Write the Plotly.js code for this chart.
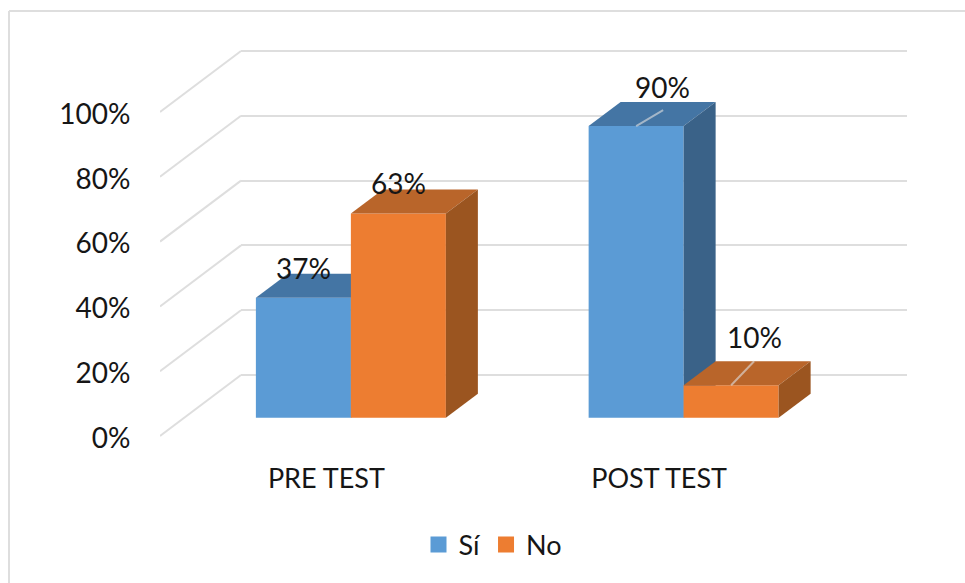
<!DOCTYPE html>
<html>
<head>
<meta charset="utf-8">
<script src="https://cdn.plot.ly/plotly-3.0.1.min.js"></script>
<style>html,body{margin:0;padding:0;background:#fff}</style>
</head>
<body>
<div id="chart" style="width:965px;height:583px"></div>
<script>
// Data
const categories = ['PRE TEST', 'POST TEST'];
const si = [37, 90];
const no = [63, 10];
const seriesNames = ['Sí', 'No'];
const yTicks = [0, 20, 40, 60, 80, 100];

// Style
const W = 965, H = 583;
const BLUE = ['#5b9bd5', '#4475a4', '#3a6288'];
const ORANGE = ['#ed7d31', '#b9652a', '#9b5520'];
const GRID = '#dedede';
const FONT = 'Lato, Carlito, Calibri, sans-serif';
const TEXT = '#161616';
const pxPerPct = 3.24, bandPx = 332.75;
const Y0 = -5, Y1 = 105, YF = 125, X0 = -0.5, X1 = 1.5;
// Depth of the bars and of the floor, as data units
const barW = 95 / bandPx, barDx = 32 / bandPx, barDy = 24 / pxPerPct;
const floorDx = 81 / bandPx, floorDy = 61 / pxPerPct;

const xDom = left => [left / W, (left + bandPx * (X1 - X0)) / W];
const yDom = (zeroPx, top) => [1 - (zeroPx - Y0 * pxPerPct) / H, 1 - (zeroPx - (top || Y1) * pxPerPct) / H];
const idx = categories.map((_, i) => i);

function faces(vals, offset, colors, xa, ya) {
  const out = [];
  vals.forEach((v, i) => {
    const l = i + offset, r = l + barW;
    out.push({ x: [l, r, r + barDx, l + barDx, l], y: [v, v, v + barDy, v + barDy, v],
      type: 'scatter', mode: 'lines', fill: 'toself', fillcolor: colors[1],
      line: { width: 0 }, hoverinfo: 'skip', showlegend: false, xaxis: xa, yaxis: ya });
    out.push({ x: [r, r + barDx, r + barDx, r, r], y: [0, barDy, v + barDy, v, 0],
      type: 'scatter', mode: 'lines', fill: 'toself', fillcolor: colors[2],
      line: { width: 0 }, hoverinfo: 'skip', showlegend: false, xaxis: xa, yaxis: ya });
  });
  return out;
}
function bar(vals, offset, color, name, xa, ya) {
  return { type: 'bar', x: idx, y: vals, name: name, width: barW, offset: offset,
    marker: { color: color, line: { width: 0 } }, showlegend: false, xaxis: xa, yaxis: ya };
}
function legendItem(name, color) {
  return { type: 'scatter', mode: 'markers', x: [null], y: [null], name: name,
    marker: { symbol: 'square', size: 16, color: color }, xaxis: 'x', yaxis: 'y' };
}
function leader(i, offset, v, dx, dy) {
  return { type: 'scatter', mode: 'lines', x: [i + offset, i + offset + dx], y: [v, v + dy],
    line: { color: 'rgba(222,222,222,0.62)', width: 2 }, hoverinfo: 'skip', showlegend: false,
    xaxis: 'x3', yaxis: 'y3' };
}
const slants = yTicks.map(v => ({
  type: 'scatter', mode: 'lines', x: [X0, X0 + floorDx], y: [v, v + floorDy],
  line: { color: GRID, width: 2 }, hoverinfo: 'skip', showlegend: false, xaxis: 'x5', yaxis: 'y5'
}));

const traces = [
  legendItem(seriesNames[0], BLUE[0]),
  legendItem(seriesNames[1], ORANGE[0]),
  bar(si, -barW, BLUE[0], seriesNames[0], 'x2', 'y2'),
  ...faces(si, -barW, BLUE, 'x2', 'y2'),
  bar(no, 0, ORANGE[0], seriesNames[1], 'x3', 'y3'),
  ...faces(no, 0, ORANGE, 'x3', 'y3'),
  leader(1, -barW / 2, si[1], 27 / bandPx, 16 / pxPerPct),
  leader(1, barW / 2, no[1], 23 / bandPx, 24 / pxPerPct),
  // carries the tick labels of the front plane
  { type: 'scatter', mode: 'markers', x: [null], y: [null], showlegend: false, hoverinfo: 'skip', xaxis: 'x4', yaxis: 'y4' },
  ...slants
];

function hiddenX(left, anchor) {
  return { domain: xDom(left), range: [X0, X1], type: 'linear', visible: false, anchor: anchor, fixedrange: true };
}
function hiddenY(zero, anchor) {
  return { domain: yDom(zero), range: [Y0, Y1], type: 'linear', visible: false, anchor: anchor, fixedrange: true };
}

const labelFont = { family: FONT, size: 28, color: TEXT };
const axisFont = { family: FONT, size: 27, color: TEXT };
const dataLabel = (x, y, v) => ({ xref: 'x2', yref: 'y2', x: x, y: y, text: v + '%', showarrow: false,
  font: labelFont, xanchor: 'center', yanchor: 'middle' });

const layout = {
  width: W, height: H, margin: { l: 0, r: 0, t: 0, b: 0 },
  paper_bgcolor: '#ffffff', plot_bgcolor: 'rgba(0,0,0,0)',
  showlegend: true, barmode: 'overlay',
  legend: { orientation: 'h', x: 493 / W, xanchor: 'center', y: 1 - 545 / H, yanchor: 'middle',
    font: axisFont, itemwidth: 30, bgcolor: 'rgba(0,0,0,0)', itemclick: false, itemdoubleclick: false },
  // back wall: gridlines
  xaxis: hiddenX(241, 'y'),
  yaxis: { domain: yDom(375), range: [Y0, Y1], type: 'linear', anchor: 'x', fixedrange: true,
    tickvals: yTicks, showticklabels: false, ticklen: 0, showline: false, zeroline: false,
    showgrid: true, gridcolor: GRID, gridwidth: 2 },
  // bars plane (Sí below, No above)
  xaxis2: hiddenX(184.5, 'y2'), yaxis2: hiddenY(417.7, 'x2'),
  xaxis3: hiddenX(184.5, 'y3'), yaxis3: hiddenY(417.7, 'x3'),
  // front plane: tick labels
  xaxis4: { domain: xDom(160), range: [X0, X1], type: 'linear', anchor: 'y4', fixedrange: true,
    tickmode: 'array', tickvals: idx, ticktext: categories, showgrid: false, zeroline: false, showline: false,
    ticks: 'outside', ticklen: 0, tickcolor: 'rgba(0,0,0,0)', tickfont: axisFont },
  yaxis4: { domain: yDom(438), range: [Y0, Y1], type: 'linear', anchor: 'x4', fixedrange: true,
    tickmode: 'array', tickvals: yTicks, ticktext: yTicks.map(v => v + '%'), showgrid: false, zeroline: false, showline: false,
    ticks: 'outside', ticklen: 23, tickcolor: 'rgba(0,0,0,0)', tickfont: { family: FONT, size: 28, color: TEXT } },
  // slanted side-wall lines
  xaxis5: hiddenX(160, 'y5'),
  yaxis5: { domain: yDom(436, YF), range: [Y0, YF], type: 'linear', visible: false, anchor: 'x5', fixedrange: true },
  annotations: [
    dataLabel(0 - barW / 2, si[0] + 30 / pxPerPct, si[0]),
    dataLabel(0 + barW / 2, no[0] + 31 / pxPerPct, no[0]),
    dataLabel(1 - barW / 2 + 26 / bandPx, si[1] + 39 / pxPerPct, si[1]),
    dataLabel(1 + barW / 2 + 23 / bandPx, no[1] + 48 / pxPerPct, no[1])
  ],
  shapes: [
    { type: 'line', xref: 'paper', yref: 'paper', x0: 9 / W, x1: 9 / W, y0: 0, y1: 1 - 11 / H, line: { color: GRID, width: 2 } },
    { type: 'line', xref: 'paper', yref: 'paper', x0: 9 / W, x1: 1, y0: 1 - 11 / H, y1: 1 - 11 / H, line: { color: GRID, width: 2 } }
  ]
};
Plotly.newPlot('chart', traces, layout, { displayModeBar: false, staticPlot: true });
</script>
</body>
</html>
